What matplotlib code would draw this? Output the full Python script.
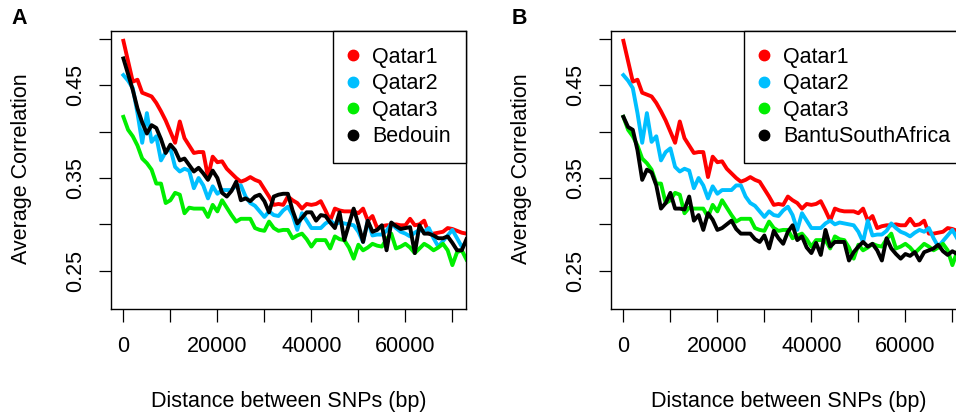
#!/usr/bin/env python3
"""
LD decay curves (average correlation vs SNP distance) for Qatari populations.
"""

import matplotlib
matplotlib.use('Agg')
import matplotlib.pyplot as plt

plt.rcParams['font.family'] = ['Liberation Sans', 'DejaVu Sans']
plt.rcParams['font.size'] = 15.5

# Distance between SNPs (bp), one bin every 1000 bp
distance = list(range(0, 74000, 1000))

qatar1 = [0.498, 0.476, 0.454, 0.456, 0.442, 0.440, 0.438, 0.431, 0.422, 0.412,
          0.400, 0.388, 0.411, 0.393, 0.385, 0.377, 0.378, 0.378, 0.351, 0.373,
          0.367, 0.368, 0.360, 0.355, 0.350, 0.346, 0.348, 0.351, 0.348, 0.346,
          0.338, 0.330, 0.321, 0.322, 0.321, 0.330, 0.326, 0.323, 0.317, 0.322,
          0.321, 0.322, 0.325, 0.315, 0.304, 0.317, 0.315, 0.314, 0.314, 0.314,
          0.312, 0.317, 0.304, 0.309, 0.296, 0.298, 0.299, 0.299, 0.300, 0.299,
          0.299, 0.306, 0.299, 0.300, 0.304, 0.290, 0.290, 0.291, 0.292, 0.296,
          0.295, 0.293, 0.291, 0.290]

qatar2 = [0.461, 0.455, 0.447, 0.420, 0.388, 0.420, 0.389, 0.395, 0.369, 0.378,
          0.382, 0.362, 0.357, 0.360, 0.358, 0.339, 0.350, 0.342, 0.328, 0.341,
          0.333, 0.337, 0.337, 0.337, 0.342, 0.342, 0.330, 0.323, 0.320, 0.314,
          0.308, 0.314, 0.310, 0.309, 0.315, 0.319, 0.310, 0.294, 0.312, 0.304,
          0.296, 0.296, 0.296, 0.301, 0.304, 0.300, 0.302, 0.301, 0.300, 0.299,
          0.292, 0.281, 0.304, 0.288, 0.289, 0.289, 0.293, 0.301, 0.296, 0.292,
          0.290, 0.287, 0.291, 0.294, 0.292, 0.296, 0.285, 0.276, 0.282, 0.288,
          0.294, 0.285, 0.276, 0.280]

qatar3 = [0.416, 0.402, 0.395, 0.385, 0.371, 0.366, 0.359, 0.344, 0.344, 0.323,
          0.326, 0.334, 0.332, 0.312, 0.318, 0.317, 0.317, 0.317, 0.308, 0.321,
          0.314, 0.326, 0.318, 0.310, 0.303, 0.306, 0.306, 0.306, 0.296, 0.294,
          0.293, 0.303, 0.296, 0.293, 0.294, 0.294, 0.285, 0.288, 0.290, 0.284,
          0.276, 0.283, 0.283, 0.283, 0.274, 0.287, 0.284, 0.283, 0.275, 0.263,
          0.278, 0.272, 0.275, 0.279, 0.277, 0.276, 0.284, 0.290, 0.274, 0.276,
          0.279, 0.275, 0.269, 0.274, 0.279, 0.276, 0.272, 0.275, 0.279, 0.272,
          0.256, 0.270, 0.272, 0.262]

bedouin = [0.479, 0.462, 0.445, 0.425, 0.410, 0.398, 0.407, 0.404, 0.392, 0.377,
           0.386, 0.380, 0.369, 0.371, 0.364, 0.357, 0.361, 0.355, 0.348, 0.358,
           0.350, 0.334, 0.330, 0.336, 0.346, 0.326, 0.328, 0.325, 0.330, 0.332,
           0.325, 0.313, 0.330, 0.332, 0.333, 0.333, 0.315, 0.301, 0.307, 0.313,
           0.313, 0.304, 0.310, 0.309, 0.302, 0.296, 0.313, 0.283, 0.300, 0.317,
           0.300, 0.281, 0.304, 0.292, 0.294, 0.299, 0.272, 0.302, 0.298, 0.295,
           0.296, 0.297, 0.269, 0.299, 0.290, 0.290, 0.288, 0.285, 0.285, 0.287,
           0.280, 0.272, 0.272, 0.284]

bantu = [0.416, 0.405, 0.402, 0.380, 0.348, 0.359, 0.356, 0.342, 0.317, 0.323,
         0.334, 0.317, 0.317, 0.316, 0.330, 0.304, 0.310, 0.294, 0.312, 0.305,
         0.294, 0.296, 0.300, 0.304, 0.295, 0.290, 0.290, 0.290, 0.284, 0.281,
         0.288, 0.274, 0.293, 0.285, 0.279, 0.292, 0.299, 0.283, 0.287, 0.275,
         0.269, 0.280, 0.267, 0.294, 0.276, 0.281, 0.281, 0.281, 0.261, 0.270,
         0.276, 0.281, 0.276, 0.279, 0.272, 0.261, 0.285, 0.274, 0.268, 0.263,
         0.268, 0.266, 0.270, 0.261, 0.270, 0.272, 0.274, 0.278, 0.271, 0.267,
         0.271, 0.268, 0.264, 0.268]

x_ticks = [0, 10000, 20000, 30000, 40000, 50000, 60000, 70000]
x_ticklabels = ['0', '', '20000', '', '40000', '', '60000', '']
y_ticks = [0.25, 0.30, 0.35, 0.40, 0.45, 0.50]
y_ticklabels = ['0.25', '', '0.35', '', '0.45', '']

RED, BLUE, GREEN, BLACK = '#FF0000', '#00BFFF', '#00EE00', '#000000'

W, H = 956, 415
fig = plt.figure(figsize=(W / 100, H / 100), dpi=100)


def draw_panel(left_px, letter, ref_name, ref_values):
    """Draw one panel with the three Qatari groups and one reference group."""
    ax_w, ax_top, ax_bot = 355.3, 31, 308.7
    ax = fig.add_axes([left_px / W, 1 - ax_bot / H, ax_w / W, (ax_bot - ax_top) / H])

    series = [('Qatar1', qatar1, RED), ('Qatar2', qatar2, BLUE),
              ('Qatar3', qatar3, GREEN), (ref_name, ref_values, BLACK)]
    for name, vals, col in series:
        ax.plot(distance, vals, color=col, lw=2.8, solid_joinstyle='round')

    ax.set_xlim(-2700, 72900)
    ax.set_ylim(0.209, 0.5086)
    ax.set_xticks(x_ticks)
    ax.set_xticklabels(x_ticklabels)
    ax.set_yticks(y_ticks)
    ax.set_yticklabels(y_ticklabels, rotation=90, va='center')
    ax.tick_params(direction='out', length=9, width=0.9, labelsize=15.5)
    ax.tick_params(axis='x', pad=11)
    ax.tick_params(axis='y', pad=9)
    for sp in ax.spines.values():
        sp.set_linewidth(1.0)

    handles = [plt.Line2D([], [], ls='none', marker='o', ms=7.5, color=col)
               for _, _, col in series]
    leg = ax.legend(handles, [s[0] for s in series], loc='upper right',
                    borderaxespad=0, fancybox=False, framealpha=1,
                    edgecolor='black', fontsize=15.5, borderpad=0.72,
                    handlelength=0.4, handletextpad=0.7, labelspacing=0.26)
    leg.get_frame().set_linewidth(1.0)

    cx = left_px + ax_w / 2
    fig.text(cx / W, 1 - 401 / H, 'Distance between SNPs (bp)',
             ha='center', va='center', fontsize=15.5)
    fig.text((left_px - 89) / W, 1 - 169 / H, 'Average Correlation',
             rotation=90, ha='center', va='center', fontsize=15.5)
    fig.text((left_px - 91) / W, 1 - 19 / H, letter, ha='center', va='center',
             fontsize=15.5, fontweight='bold')
    return ax


draw_panel(110.7, 'A', 'Bedouin', bedouin)
draw_panel(610.7, 'B', 'BantuSouthAfrica', bantu)

fig.savefig('out.png', dpi=100)
